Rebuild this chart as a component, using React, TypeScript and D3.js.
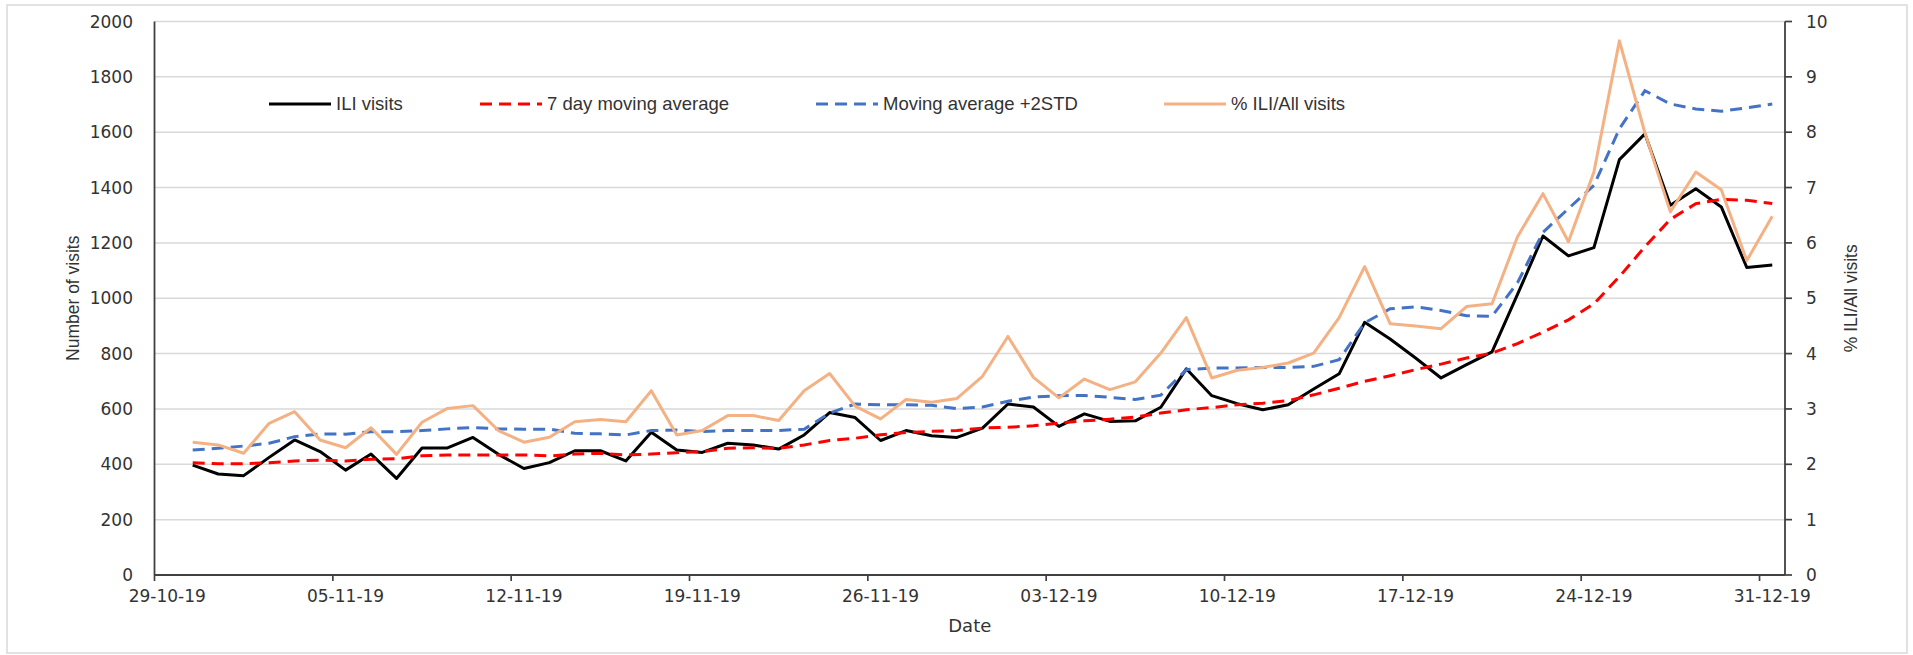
import React from "react";
import * as d3 from "d3";

// ---- Data ----
const startDate = new Date(2019, 9, 30); // first observation 30-10-19
const endDate = new Date(2020, 0, 1); // exclusive
const dates: Date[] = d3.timeDay.range(startDate, endDate); // 30-10-19 .. 31-12-19

const iliVisits = [
  397, 365, 359, 425, 488, 446, 379, 437, 349, 459, 459, 497, 436, 385, 406, 449,
  449, 412, 516, 452, 443, 476, 470, 455, 506, 587, 569, 486, 522, 503, 497, 531,
  618, 607, 537, 582, 555, 557, 606, 745, 648, 619, 597, 615, 672, 727, 913, 853,
  784, 712, 760, 806, 1014, 1225, 1153, 1183, 1501, 1594, 1336, 1396, 1330, 1111, 1120,
];

const movingAvg7 = [
  406, 402, 402, 406, 412, 415, 412, 418, 420, 431, 434, 434, 434, 434, 430, 437,
  440, 434, 437, 442, 446, 458, 460, 458, 470, 486, 494, 507, 515, 519, 522, 531,
  534, 539, 549, 557, 563, 571, 585, 597, 605, 615, 621, 630, 651, 675, 700, 720,
  742, 762, 784, 802, 836, 878, 922, 980, 1078, 1186, 1285, 1342, 1357, 1354, 1342,
];

const movingAvgPlus2Std = [
  452, 458, 466, 476, 500, 510, 509, 518, 518, 522, 528, 533, 528, 527, 527, 512,
  510, 506, 522, 524, 518, 522, 522, 522, 527, 585, 618, 615, 615, 613, 601, 607,
  628, 643, 648, 649, 642, 634, 650, 742, 748, 748, 750, 750, 754, 778, 911, 962,
  969, 956, 937, 935, 1056, 1238, 1324, 1408, 1612, 1750, 1702, 1684, 1676, 1688, 1702,
];

const pctIliAll = [
  2.4, 2.35, 2.2, 2.74, 2.95, 2.44, 2.3, 2.66, 2.18, 2.76, 3.01, 3.06, 2.61, 2.4, 2.49, 2.77,
  2.81, 2.77, 3.33, 2.53, 2.61, 2.88, 2.88, 2.79, 3.33, 3.64, 3.05, 2.82, 3.17, 3.12, 3.19, 3.59,
  4.31, 3.57, 3.2, 3.54, 3.35, 3.49, 4.01, 4.65, 3.56, 3.7, 3.75, 3.83, 4.01, 4.65, 5.57, 4.54,
  4.5, 4.45, 4.85, 4.9, 6.11, 6.89, 6.02, 7.28, 9.65, 7.99, 6.56, 7.28, 6.96, 5.68, 6.48,
];

const leftTicks = [0, 200, 400, 600, 800, 1000, 1200, 1400, 1600, 1800, 2000];
const rightTicks = [0, 1, 2, 3, 4, 5, 6, 7, 8, 9, 10];
const axisStart = new Date(2019, 9, 29);
const axisEnd = new Date(2020, 0, 1);
const tickDates: Date[] = d3.timeDay.range(axisStart, axisEnd, 7); // 29-10-19 .. 31-12-19

const legendItems = [
  { label: "ILI visits", color: "#000000", dash: "" },
  { label: "7 day moving average", color: "#FF0000", dash: "12 7" },
  { label: "Moving average +2STD", color: "#4472C4", dash: "12 7" },
  { label: "% ILI/All visits", color: "#F4B183", dash: "" },
];

// ---- Layout ----
const W = 1913;
const H = 655;
const L = 154.5;
const R = 1785;
const T = 21.5;
const B = 575;

export default function App() {
  const x = d3.scaleTime().domain([axisStart, axisEnd]).range([L, R]);
  const yL = d3.scaleLinear().domain([0, 2000]).range([B, T]);
  const yR = d3.scaleLinear().domain([0, 10]).range([B, T]);
  const px = (i: number) => x(d3.timeHour.offset(dates[i], 12));

  const lineL = d3
    .line<number>()
    .x((_, i) => px(i))
    .y((v) => yL(v));
  const lineR = d3
    .line<number>()
    .x((_, i) => px(i))
    .y((v) => yR(v));
  const fmt = d3.timeFormat("%d-%m-%y");

  const textColor = "#333333";
  const axisColor = "#404040";
  const tickFont = "'DejaVu Sans', Verdana, sans-serif";
  const labelFont = "'Liberation Sans', Arial, sans-serif";

  const legendX = [269, 480, 816, 1164];
  const legendY = 104;

  return (
    <svg
      width={W}
      height={H}
      style={{ position: "absolute", left: 0, top: 0, background: "#fff" }}
    >
      <rect x={7} y={5} width={1900} height={648} fill="#fff" stroke="#d9d9d9" strokeWidth={1.5} />

      {/* gridlines */}
      {leftTicks.map((t) => (
        <line key={"g" + t} x1={L} x2={R} y1={yL(t)} y2={yL(t)} stroke="#d9d9d9" strokeWidth={1.5} />
      ))}

      {/* left tick labels */}
      {leftTicks.map((t) => (
        <text
          key={"lt" + t}
          x={133}
          y={yL(t)}
          dy="0.36em"
          textAnchor="end"
          fontFamily={tickFont}
          fontSize={17}
          fill={textColor}
        >
          {t}
        </text>
      ))}

      {/* right ticks & labels */}
      {rightTicks.map((t) => (
        <g key={"rt" + t}>
          <line x1={R} x2={R + 7} y1={yR(t)} y2={yR(t)} stroke={axisColor} strokeWidth={1.7} />
          <text
            x={1806}
            y={yR(t)}
            dy="0.36em"
            textAnchor="start"
            fontFamily={tickFont}
            fontSize={17}
            fill={textColor}
          >
            {t}
          </text>
        </g>
      ))}

      {/* x ticks & labels */}
      {tickDates.map((d) => (
        <g key={"xt" + d.getTime()}>
          <line x1={x(d)} x2={x(d)} y1={B} y2={B + 6} stroke={axisColor} strokeWidth={1.7} />
          <text
            x={x(d3.timeHour.offset(d, 12))}
            y={602}
            textAnchor="middle"
            fontFamily={tickFont}
            fontSize={17}
            fill={textColor}
          >
            {fmt(d)}
          </text>
        </g>
      ))}

      {/* axes */}
      <line x1={L} x2={L} y1={T} y2={B} stroke={axisColor} strokeWidth={1.8} />
      <line x1={R} x2={R} y1={T} y2={B} stroke={axisColor} strokeWidth={1.8} />
      <line x1={L} x2={R} y1={B} y2={B} stroke={axisColor} strokeWidth={1.8} />

      {/* series */}
      <path d={lineL(iliVisits) || ""} fill="none" stroke="#000" strokeWidth={3} strokeLinejoin="round" />
      <path d={lineL(movingAvg7) || ""} fill="none" stroke="#FF0000" strokeWidth={3} strokeDasharray="12 7" />
      <path d={lineL(movingAvgPlus2Std) || ""} fill="none" stroke="#4472C4" strokeWidth={3} strokeDasharray="12 7" />
      <path d={lineR(pctIliAll) || ""} fill="none" stroke="#F4B183" strokeWidth={3} strokeLinejoin="round" />

      {/* legend */}
      {legendItems.map((it, k) => (
        <g key={it.label}>
          <line
            x1={legendX[k]}
            x2={legendX[k] + 62}
            y1={legendY}
            y2={legendY}
            stroke={it.color}
            strokeWidth={3}
            strokeDasharray={it.dash || undefined}
          />
          <text
            x={legendX[k] + 67}
            y={legendY}
            dy="0.35em"
            fontFamily={labelFont}
            fontSize={18.5}
            fill={textColor}
          >
            {it.label}
          </text>
        </g>
      ))}

      {/* axis titles */}
      <text
        transform={`translate(73, ${(T + B) / 2}) rotate(-90)`}
        textAnchor="middle"
        dy="0.35em"
        fontFamily={labelFont}
        fontSize={17.5}
        fill={textColor}
      >
        Number of visits
      </text>
      <text
        transform={`translate(1851, ${(T + B) / 2}) rotate(-90)`}
        textAnchor="middle"
        dy="0.35em"
        fontFamily={labelFont}
        fontSize={17.5}
        fill={textColor}
      >
        % ILI/All visits
      </text>
      <text x={(L + R) / 2} y={632} textAnchor="middle" fontFamily={tickFont} fontSize={18} fill={textColor}>
        Date
      </text>
    </svg>
  );
}
